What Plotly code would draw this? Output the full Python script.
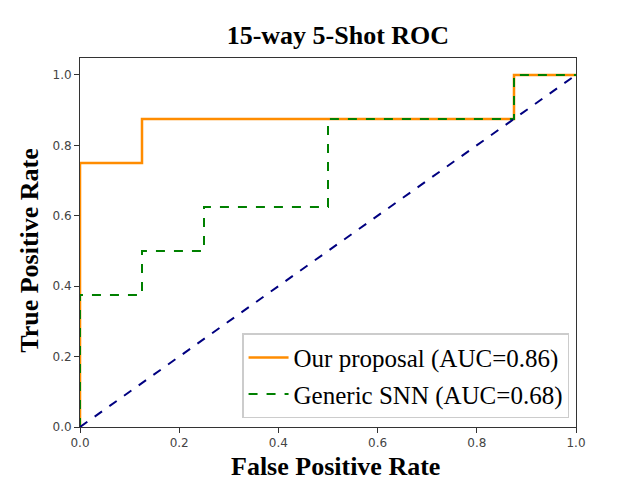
import plotly.graph_objects as go

# ROC points
ours_fpr = [0.0, 0.0, 0.125, 0.125, 0.875, 0.875, 1.0]
ours_tpr = [0.0, 0.75, 0.75, 0.875, 0.875, 1.0, 1.0]

snn_fpr = [0.0, 0.0, 0.125, 0.125, 0.25, 0.25, 0.5, 0.5, 0.875, 0.875, 1.0]
snn_tpr = [0.0, 0.375, 0.375, 0.5, 0.5, 0.625, 0.625, 0.875, 0.875, 1.0, 1.0]

chance = [0.0, 1.0]

tick_vals = [0.0, 0.2, 0.4, 0.6, 0.8, 1.0]
tick_text = ["0.0", "0.2", "0.4", "0.6", "0.8", "1.0"]

serif = "Liberation Serif, Times New Roman, serif"
title_font = dict(family=serif, size=26, color="black")

fig = go.Figure()

fig.add_trace(go.Scatter(
    x=ours_fpr, y=ours_tpr, mode="lines",
    name="Our proposal (AUC=0.86)", legendgroup="ours",
    line=dict(color="darkorange", width=2.5),
))
fig.add_trace(go.Scatter(
    x=snn_fpr, y=snn_tpr, mode="lines",
    name="Generic SNN (AUC=0.68)", legendgroup="snn",
    line=dict(color="green", width=2, dash="dash"),
))
fig.add_trace(go.Scatter(
    x=chance, y=chance, mode="lines",
    showlegend=False,
    line=dict(color="navy", width=2, dash="dash"),
))

axis_common = dict(
    showgrid=False, zeroline=False, automargin=False,
    showline=True, mirror=True, linecolor="#333333", linewidth=1,
    ticks="outside", ticklen=5, tickcolor="#333333",
    tickvals=tick_vals, ticktext=tick_text,
    tickfont=dict(family="DejaVu Sans", size=12, color="#444444"),
)

# page body has an 8px margin, so the figure is sized 8px smaller
fig.update_layout(
    width=632, height=472,
    paper_bgcolor="white", plot_bgcolor="white",
    margin=dict(l=72, r=64, t=50, b=53),
    title=dict(
        text="<b>15-way 5-Shot ROC</b>",
        x=0.522, xanchor="center", y=0.943, yanchor="middle",
        font=title_font,
    ),
    xaxis=dict(range=[0, 1], **axis_common),
    yaxis=dict(range=[0, 1.048], **axis_common),
    legend=dict(
        x=0.986, y=0.024, xanchor="right", yanchor="bottom",
        bgcolor="rgba(255,255,255,0.8)",
        bordercolor="#cccccc", borderwidth=1.5,
        font=dict(family=serif, size=25, color="black"),
        itemwidth=40, tracegroupgap=1,
    ),
)

# axis titles as annotations (they sit slightly off-centre in the reference)
fig.add_annotation(
    text="<b>False Positive Rate</b>", xref="paper", yref="paper",
    x=0.516, y=-0.106, xanchor="center", yanchor="middle",
    showarrow=False, font=title_font,
)
fig.add_annotation(
    text="<b>True Positive Rate</b>", xref="paper", yref="paper",
    x=-0.101, y=0.48, xanchor="center", yanchor="middle",
    textangle=-90, showarrow=False, font=title_font,
)

fig.write_html("out.html")
